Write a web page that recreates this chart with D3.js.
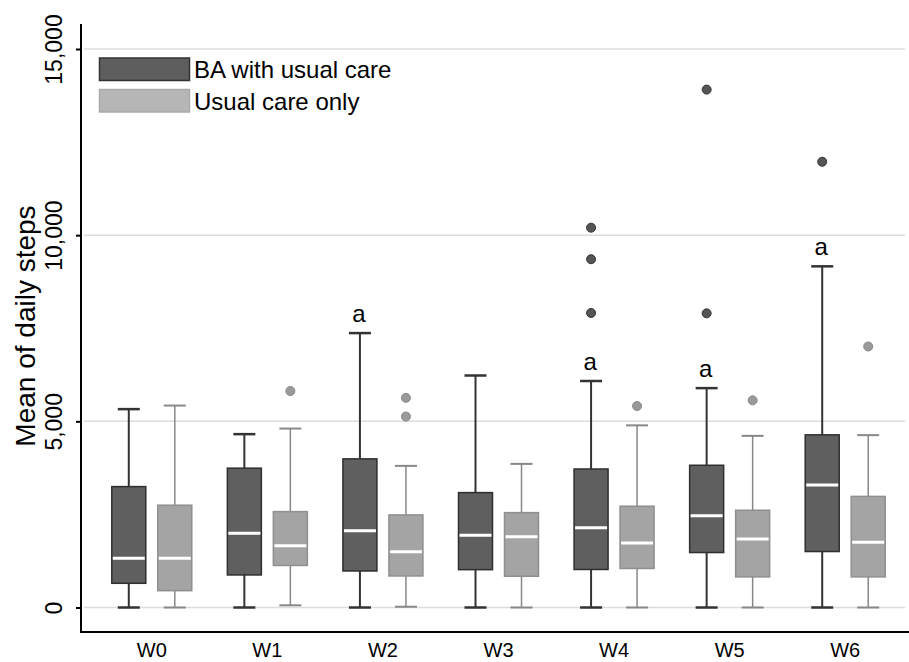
<!DOCTYPE html>
<html>
<head>
<meta charset="utf-8">
<script src="https://cdn.jsdelivr.net/npm/d3@7"></script>
<style>
body { margin: 0; background: #fff; }
text { font-family: "Liberation Sans", Arial, sans-serif; }
</style>
</head>
<body>
<div id="chart"></div>
<script>
// weeks and groups
var weeks = ["W0", "W1", "W2", "W3", "W4", "W5", "W6"];
var groups = ["BA with usual care", "Usual care only"];
var yTicks = [0, 5000, 10000, 15000];

// BA with usual care: [low whisker, Q1, median, Q3, high whisker]
var baStats = [
  [0, 650, 1322, 3247, 5328],
  [0, 874, 1994, 3742, 4656],
  [0, 981, 2064, 3992, 7370],
  [0, 1016, 1941, 3086, 6231],
  [0, 1021, 2140, 3720, 6083],
  [0, 1476, 2467, 3820, 5892],
  [0, 1503, 3293, 4637, 9163]
];
// usual care only
var ucStats = [
  [0, 452, 1322, 2747, 5424],
  [59, 1129, 1661, 2575, 4806],
  [21, 847, 1500, 2486, 3804],
  [0, 839, 1903, 2548, 3857],
  [0, 1048, 1731, 2720, 4892],
  [0, 822, 1841, 2612, 4610],
  [0, 822, 1750, 2984, 4629]
];
var baOutliers = [[], [], [], [], [10201, 9354, 7911], [13910, 7900], [11972]];
var ucOutliers = [[], [5814], [5631, 5129], [], [5411], [5564], [7010]];
// "a" marks significant weeks
var sigWeeks = ["W2", "W4", "W5", "W6"];

var width = 909, height = 662;
var svg = d3.select("#chart").append("svg").attr("width", width).attr("height", height);

var x = d3.scaleBand().domain(weeks).range([94, 903]).padding(0);
var sub = d3.scalePoint().domain(groups).range([-23, 23]);
var y = d3.scaleLinear().domain([0, 15000]).range([607.5, 49]);

var boxW = 34, capW = 22;
var style = {
  "BA with usual care": {fill: "#5f5f5f", stroke: "#2f2f2f", whisk: "#333", sw: 2, dot: "#555", dotStroke: "#333"},
  "Usual care only": {fill: "#a4a4a4", stroke: "#8f8f8f", whisk: "#888", sw: 1.5, dot: "#9a9a9a", dotStroke: "#888"}
};

// gridlines
svg.append("g").selectAll("line").data(yTicks).enter().append("line")
  .attr("x1", 84).attr("x2", 905)
  .attr("y1", function(d){ return y(d); }).attr("y2", function(d){ return y(d); })
  .attr("stroke", "#dcdcdc").attr("stroke-width", 1.5);

// y axis
var yAxis = svg.append("g").attr("transform", "translate(81,0)")
  .call(d3.axisLeft(y).tickValues(yTicks).tickSize(5).tickFormat(d3.format(",")));
yAxis.select(".domain").remove();
yAxis.selectAll(".tick line").attr("stroke", "#000").attr("stroke-width", 2);
yAxis.selectAll(".tick text")
  .attr("transform", "rotate(-90)")
  .attr("x", 0).attr("y", -19).attr("dy", 0)
  .attr("text-anchor", "middle")
  .style("font-size", "23px").attr("fill", "#000");
svg.append("line").attr("x1", 81).attr("x2", 81).attr("y1", 24).attr("y2", 633)
  .attr("stroke", "#000").attr("stroke-width", 2);

// x axis
svg.append("line").attr("x1", 80).attr("x2", 909).attr("y1", 632).attr("y2", 632)
  .attr("stroke", "#000").attr("stroke-width", 2);
svg.append("g").selectAll("text").data(weeks).enter().append("text")
  .attr("x", function(d){ return x(d) + x.bandwidth() / 2; })
  .attr("y", 657)
  .attr("text-anchor", "middle")
  .style("font-size", "20px")
  .text(function(d){ return d; });

// y title
svg.append("text")
  .attr("transform", "translate(35,326) rotate(-90)")
  .attr("text-anchor", "middle")
  .style("font-size", "28px")
  .text("Mean of daily steps");

function drawBoxes(stats, outliers, group){
  var s = style[group];
  var g = svg.append("g");
  var cx = function(i){ return x(weeks[i]) + x.bandwidth() / 2 + sub(group); };
  var items = g.selectAll("g.box").data(stats).enter().append("g").attr("class", "box");
  // whiskers
  items.append("line")
    .attr("x1", function(d, i){ return cx(i); }).attr("x2", function(d, i){ return cx(i); })
    .attr("y1", function(d){ return y(d[0]); }).attr("y2", function(d){ return y(d[4]); })
    .attr("stroke", s.whisk).attr("stroke-width", s.sw);
  [0, 4].forEach(function(k){
    items.append("line")
      .attr("x1", function(d, i){ return cx(i) - capW / 2; })
      .attr("x2", function(d, i){ return cx(i) + capW / 2; })
      .attr("y1", function(d){ return y(d[k]); }).attr("y2", function(d){ return y(d[k]); })
      .attr("stroke", s.whisk).attr("stroke-width", s.sw + 0.5);
  });
  // box
  items.append("rect")
    .attr("x", function(d, i){ return cx(i) - boxW / 2; })
    .attr("width", boxW)
    .attr("y", function(d){ return y(d[3]); })
    .attr("height", function(d){ return y(d[1]) - y(d[3]); })
    .attr("fill", s.fill).attr("stroke", s.stroke).attr("stroke-width", 1.5);
  // median
  items.append("line")
    .attr("x1", function(d, i){ return cx(i) - boxW / 2 + 1; })
    .attr("x2", function(d, i){ return cx(i) + boxW / 2 - 1; })
    .attr("y1", function(d){ return y(d[2]); }).attr("y2", function(d){ return y(d[2]); })
    .attr("stroke", "#fff").attr("stroke-width", 3);
  // outliers
  outliers.forEach(function(list, i){
    g.selectAll(null).data(list).enter().append("circle")
      .attr("cx", cx(i)).attr("cy", function(d){ return y(d); })
      .attr("r", 4.5)
      .attr("fill", s.dot).attr("stroke", s.dotStroke).attr("stroke-width", 1);
  });
}
drawBoxes(baStats, baOutliers, groups[0]);
drawBoxes(ucStats, ucOutliers, groups[1]);

// significance letters
svg.append("g").selectAll("text").data(sigWeeks).enter().append("text")
  .attr("x", function(d){ return x(d) + x.bandwidth() / 2 + sub(groups[0]) - 1; })
  .attr("y", function(d){ return y(baStats[weeks.indexOf(d)][4]) - 11; })
  .attr("text-anchor", "middle")
  .style("font-size", "24px")
  .text("a");

// legend
var legend = svg.append("g");
var legFill = ["#5e5e5e", "#b6b6b6"], legStroke = ["#333", "#aaa"];
groups.forEach(function(name, i){
  legend.append("rect").attr("x", 99.5).attr("y", 58 + i * 31.5)
    .attr("width", 90).attr("height", 22.5)
    .attr("fill", legFill[i]).attr("stroke", legStroke[i]).attr("stroke-width", 1.5);
  legend.append("text").attr("x", 194).attr("y", 78 + i * 31.5)
    .style("font-size", "24px")
    .text(name);
});
</script>
</body>
</html>
